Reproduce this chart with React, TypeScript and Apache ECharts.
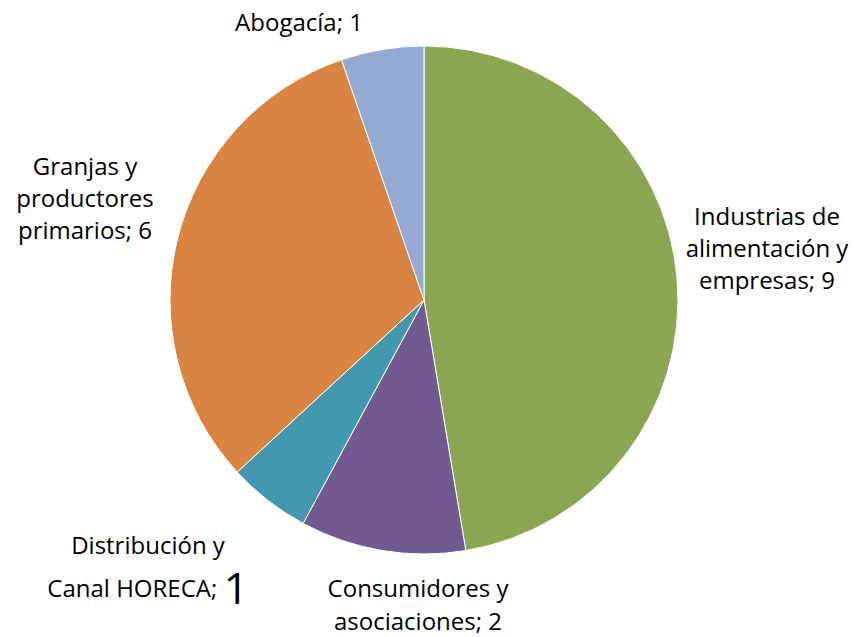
import React, { useEffect, useRef } from "react";
import * as echarts from "echarts";

const categories = [
  "Industrias de\nalimentación y\nempresas",
  "Consumidores y\nasociaciones",
  "Distribución y\nCanal HORECA",
  "Granjas y\nproductores\nprimarios",
  "Abogacía",
];
const values = [9, 2, 1, 6, 1];
const colors = ["#8AA650", "#715A90", "#4298AF", "#DA8441", "#95AAD3"];
const labelPos: [number, number][] = [
  [767, 247],
  [418, 604],
  [148, 570],
  [85, 197],
  [299, 21],
];
const labelLineHeights = [32, 33, 34, 32, 34];

export default function App() {
  const ref = useRef<HTMLDivElement>(null);
  useEffect(() => {
    if (!ref.current) return;
    const chart = echarts.init(ref.current, null, { renderer: "svg" });
    const font = "Open Sans";
    chart.setOption({
      animation: false,
      backgroundColor: "#ffffff",
      series: [
        {
          type: "pie",
          center: [424, 300],
          radius: [0, 254],
          startAngle: 90,
          clockwise: true,
          itemStyle: { borderColor: "#ffffff", borderWidth: 1 },
          labelLine: { show: false },
          label: {
            show: true,
            position: "outside",
            overflow: "none",
            color: "#000000",
            fontFamily: font,
            fontSize: 24,
            lineHeight: 34,
            align: "center",
            formatter: (p: any) => {
              if (p.dataIndex === 2) {
                return "{a|Distribución y}\n{a|Canal HORECA; }{b|" + p.value + "}";
              }
              return p.name + "; " + p.value;
            },
            rich: {
              a: { fontFamily: font, fontSize: 24, lineHeight: 34, color: "#000" },
              b: { fontFamily: font, fontSize: 44, lineHeight: 52, color: "#000" },
            },
          },
          labelLayout: (params: any) => {
            const pos = labelPos[params.dataIndex];
            return { x: pos[0], y: pos[1], align: "center", verticalAlign: "middle" };
          },
          data: categories.map((c, i) => ({
            name: c,
            value: values[i],
            itemStyle: { color: colors[i] },
            label: { lineHeight: labelLineHeights[i] },
          })),
        },
      ],
    });
    return () => chart.dispose();
  }, []);
  return (
    <div
      ref={ref}
      style={{ position: "absolute", left: 0, top: 0, width: 854, height: 637 }}
    />
  );
}
